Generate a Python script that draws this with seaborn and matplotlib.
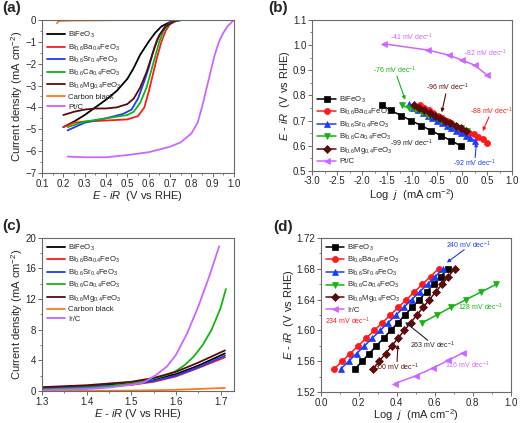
import numpy as np
import pandas as pd
import matplotlib
matplotlib.use("Agg")
import matplotlib.pyplot as plt
import seaborn as sns
from matplotlib.ticker import AutoMinorLocator, FormatStrFormatter

sns.set_style("ticks")
plt.rcParams['font.family'] = ['Liberation Sans', 'DejaVu Sans']
plt.rcParams['mathtext.fontset'] = 'custom'
plt.rcParams['mathtext.rm'] = 'Liberation Sans'
plt.rcParams['mathtext.it'] = 'Liberation Sans:italic'

# ---------------- labels / colors ----------------
names_cat = ["BiFeO$_3$", "Bi$_{0.6}$Ba$_{0.4}$FeO$_3$", "Bi$_{0.6}$Sr$_{0.4}$FeO$_3$",
             "Bi$_{0.6}$Ca$_{0.4}$FeO$_3$", "Bi$_{0.6}$Mg$_{0.4}$FeO$_3$"]
colors = ["#000000", "#ff1a1a", "#1a3cff", "#14b414", "#5c0a0a", "#ff7a1a", "#cc66ff"]

# ---------------- panel (a): ORR LSV ----------------
a_bfo_x = [0.20, 0.25, 0.30, 0.35, 0.40, 0.45, 0.50, 0.53, 0.56, 0.60, 0.63, 0.66, 0.70, 0.75, 1.00]
a_bfo_y = [-4.90, -4.65, -4.35, -4.00, -3.65, -3.25, -2.70, -2.20, -1.60, -1.00, -0.60, -0.30, -0.10, 0.00, 0.00]
a_ba_x = [0.20, 0.25, 0.30, 0.40, 0.50, 0.55, 0.58, 0.60, 0.62, 0.64, 0.66, 0.68, 0.70, 0.73, 0.76, 1.00]
a_ba_y = [-4.90, -4.70, -4.65, -4.60, -4.55, -4.40, -4.00, -3.30, -2.50, -1.70, -1.00, -0.50, -0.20, -0.05, 0.00, 0.02]
a_sr_x = [0.22, 0.30, 0.40, 0.48, 0.52, 0.55, 0.58, 0.60, 0.62, 0.64, 0.67, 0.70, 0.74, 1.00]
a_sr_y = [-5.05, -4.70, -4.50, -4.30, -4.10, -3.60, -2.80, -2.20, -1.50, -0.90, -0.40, -0.10, 0.00, 0.00]
a_ca_x = [0.22, 0.30, 0.40, 0.50, 0.53, 0.56, 0.59, 0.61, 0.63, 0.65, 0.67, 0.70, 0.74, 1.00]
a_ca_y = [-4.90, -4.65, -4.50, -4.35, -4.20, -3.80, -3.10, -2.40, -1.70, -1.00, -0.50, -0.15, 0.00, 0.04]
a_mg_x = [0.20, 0.25, 0.30, 0.35, 0.40, 0.45, 0.50, 0.53, 0.56, 0.59, 0.61, 0.63, 0.65, 0.68, 0.72, 0.76, 1.00]
a_mg_y = [-4.35, -4.20, -4.10, -4.05, -4.05, -4.00, -3.85, -3.60, -3.10, -2.40, -1.80, -1.20, -0.70, -0.30, -0.05, 0.00, 0.02]
a_cb_x = [0.17, 0.18, 0.25, 0.50, 1.00]
a_cb_y = [-0.15, -0.05, -0.03, -0.01, 0.00]
a_pt_x = [0.22, 0.30, 0.40, 0.50, 0.60, 0.70, 0.75, 0.80, 0.83, 0.85, 0.87, 0.89, 0.91, 0.93, 0.95, 0.97, 1.00]
a_pt_y = [-6.25, -6.28, -6.28, -6.18, -6.05, -5.80, -5.60, -5.20, -4.70, -4.00, -3.20, -2.40, -1.60, -1.00, -0.60, -0.30, 0.00]

# ---------------- panel (b): ORR Tafel ----------------
b_bfo_x = [-1.60, -1.42, -1.22, -1.02, -0.82, -0.62, -0.42, -0.22, -0.03]
b_bfo_y = [0.76, 0.74, 0.72, 0.70, 0.68, 0.66, 0.64, 0.62, 0.60]
b_ba_x = [-0.85, -0.76, -0.67, -0.58, -0.49, -0.40, -0.31, -0.22, -0.13, -0.04, 0.05, 0.14, 0.23, 0.32, 0.41, 0.50]
b_ba_y = [0.76, 0.75, 0.74, 0.73, 0.72, 0.71, 0.70, 0.69, 0.68, 0.67, 0.66, 0.65, 0.645, 0.635, 0.625, 0.61]
b_sr_x = [-1.07, -0.975, -0.88, -0.785, -0.69, -0.595, -0.50, -0.405, -0.31, -0.215, -0.12, -0.025, 0.07, 0.165, 0.26]
b_sr_y = [0.765, 0.75, 0.74, 0.73, 0.72, 0.71, 0.70, 0.69, 0.68, 0.67, 0.66, 0.65, 0.64, 0.63, 0.62]
b_ca_x = [-1.20, -1.07, -0.94, -0.81, -0.68, -0.55, -0.42, -0.29, -0.16, -0.03, 0.10]
b_ca_y = [0.76, 0.75, 0.74, 0.73, 0.72, 0.71, 0.70, 0.69, 0.68, 0.67, 0.66]
b_mg_x = [-0.97, -0.86, -0.76, -0.65, -0.55, -0.45, -0.34, -0.24, -0.13, -0.03, 0.08]
b_mg_y = [0.76, 0.75, 0.74, 0.73, 0.72, 0.71, 0.70, 0.69, 0.68, 0.67, 0.66]
b_pt_x = [-1.57, -0.68, -0.27, 0.00, 0.25, 0.50]
b_pt_y = [1.005, 0.98, 0.96, 0.94, 0.92, 0.88]

# ---------------- panel (c): OER LSV ----------------
c_bfo_x = [1.30, 1.40, 1.50, 1.55, 1.60, 1.65, 1.71]
c_bfo_y = [0.40, 0.60, 1.00, 1.50, 2.20, 3.30, 4.90]
c_ba_x = [1.30, 1.40, 1.50, 1.55, 1.60, 1.65, 1.71]
c_ba_y = [0.30, 0.50, 0.80, 1.20, 1.90, 3.00, 4.40]
c_sr_x = [1.30, 1.40, 1.50, 1.55, 1.60, 1.65, 1.71]
c_sr_y = [0.35, 0.55, 0.85, 1.30, 2.00, 3.10, 4.60]
c_ca_x = [1.30, 1.40, 1.45, 1.50, 1.55, 1.58, 1.60, 1.62, 1.64, 1.66, 1.68, 1.70, 1.712]
c_ca_y = [0.20, 0.40, 0.60, 1.00, 1.60, 2.10, 2.60, 3.40, 4.50, 6.00, 8.00, 10.8, 13.3]
c_mg_x = [1.30, 1.40, 1.50, 1.55, 1.60, 1.65, 1.71]
c_mg_y = [0.50, 0.75, 1.20, 1.70, 2.50, 3.70, 5.30]
c_cb_x = [1.30, 1.50, 1.60, 1.71]
c_cb_y = [0.00, 0.05, 0.15, 0.40]
c_ir_x = [1.30, 1.40, 1.45, 1.50, 1.527, 1.556, 1.58, 1.60, 1.625, 1.65, 1.675, 1.697]
c_ir_y = [0.10, 0.25, 0.45, 0.80, 1.10, 2.10, 3.20, 4.70, 7.50, 11.0, 15.0, 18.9]

# ---------------- panel (d): OER Tafel ----------------
d_bfo_x = [0.18, 0.218, 0.255, 0.293, 0.331, 0.368, 0.406, 0.443, 0.481, 0.519, 0.557, 0.594, 0.632, 0.67]
d_bfo_y = [1.55, 1.56, 1.57, 1.58, 1.59, 1.60, 1.61, 1.62, 1.63, 1.64, 1.65, 1.66, 1.67, 1.68]
d_ba_x = [0.07, 0.112, 0.155, 0.197, 0.239, 0.282, 0.324, 0.366, 0.408, 0.451, 0.493, 0.535, 0.578, 0.62]
d_ba_y = [1.55, 1.56, 1.57, 1.58, 1.59, 1.60, 1.61, 1.62, 1.63, 1.64, 1.65, 1.66, 1.67, 1.68]
d_sr_x = [0.105, 0.147, 0.188, 0.23, 0.271, 0.313, 0.354, 0.396, 0.437, 0.479, 0.52, 0.562, 0.603, 0.645]
d_sr_y = [1.55, 1.56, 1.57, 1.58, 1.59, 1.60, 1.61, 1.62, 1.63, 1.64, 1.65, 1.66, 1.67, 1.68]
d_ca_x = [0.535, 0.61, 0.685, 0.765, 0.845, 0.925]
d_ca_y = [1.61, 1.62, 1.63, 1.64, 1.65, 1.66]
d_mg_x = [0.275, 0.308, 0.341, 0.374, 0.407, 0.44, 0.473, 0.506, 0.539, 0.572, 0.605, 0.639, 0.672, 0.705]
d_mg_y = [1.55, 1.56, 1.57, 1.58, 1.59, 1.60, 1.61, 1.62, 1.63, 1.64, 1.65, 1.66, 1.67, 1.68]
d_ir_x = [0.39, 0.50, 0.59, 0.67, 0.75]
d_ir_y = [1.531, 1.541, 1.551, 1.561, 1.571]

fig = plt.figure(figsize=(5.2, 4.23), dpi=100)
ax_a = fig.add_axes([0.0808, 0.591, 0.369, 0.362])
ax_b = fig.add_axes([0.600, 0.596, 0.385, 0.357])
ax_c = fig.add_axes([0.0808, 0.0757, 0.369, 0.362])
ax_d = fig.add_axes([0.617, 0.0733, 0.365, 0.364])

TICK_FS = 7
LAB_FS = 8
LEG_FS = 5.6
ANN_FS = 5.0
SPINE = "#6a6a6a"
LW = 1.3


def style(ax):
    for s in ax.spines.values():
        s.set_color(SPINE)
        s.set_linewidth(0.8)
    ax.tick_params(axis='both', which='major', labelsize=TICK_FS, length=2.8, width=0.7,
                   color=SPINE, direction='out', pad=1.2)
    ax.tick_params(axis='both', which='minor', length=1.6, width=0.6, color=SPINE, direction='out')
    ax.xaxis.set_minor_locator(AutoMinorLocator(2))
    ax.yaxis.set_minor_locator(AutoMinorLocator(2))


def line(ax, x, y, c, label, lw=LW, marker=None, ms=4):
    df = pd.DataFrame({"x": x, "y": y})
    sns.lineplot(data=df, x="x", y="y", ax=ax, color=c, lw=lw, label=label, sort=False,
                 estimator=None, marker=marker, markersize=ms, markeredgecolor=c if marker else None,
                 markeredgewidth=0.5)


# ---------- (a) ----------
a_series = [(a_bfo_x, a_bfo_y), (a_ba_x, a_ba_y), (a_sr_x, a_sr_y), (a_ca_x, a_ca_y),
            (a_mg_x, a_mg_y), (a_cb_x, a_cb_y), (a_pt_x, a_pt_y)]
a_labels = names_cat + ["Carbon black", "Pt/C"]
for (x, y), c, lab in zip(a_series, colors, a_labels):
    line(ax_a, x, y, c, lab)
ax_a.set_xlim(0.1, 1.0)
ax_a.set_ylim(-7, 0)
ax_a.set_xticks(np.arange(0.1, 1.01, 0.1))
ax_a.xaxis.set_major_formatter(FormatStrFormatter('%.1f'))
ax_a.set_yticks(range(-7, 1))
style(ax_a)
ax_a.set_xlabel(r"$E$ - $iR$  (V vs RHE)", fontsize=LAB_FS, labelpad=0.5)
ax_a.set_ylabel(r"Current density (mA cm$^{-2}$)", fontsize=LAB_FS, labelpad=0.5)
ax_a.legend(loc='upper left', bbox_to_anchor=(0.0, 0.965), fontsize=LEG_FS, frameon=False,
            handlelength=2.4, handletextpad=0.4, labelspacing=0.3, borderaxespad=0.2)

# ---------- (b) ----------
b_series = [(b_bfo_x, b_bfo_y, 's'), (b_ba_x, b_ba_y, 'o'), (b_sr_x, b_sr_y, '^'),
            (b_ca_x, b_ca_y, 'v'), (b_mg_x, b_mg_y, 'D'), (b_pt_x, b_pt_y, '<')]
b_labels = names_cat + ["Pt/C"]
b_cols = colors[:5] + [colors[6]]
for (x, y, m), c, lab in zip(b_series, b_cols, b_labels):
    line(ax_b, x, y, c, lab, lw=1.1, marker=m, ms=4.4 if m != 'D' else 3.6)
ax_b.set_xlim(-3.0, 1.0)
ax_b.set_ylim(0.5, 1.1)
ax_b.set_xticks(np.arange(-3.0, 1.01, 0.5))
ax_b.xaxis.set_major_formatter(FormatStrFormatter('%.1f'))
ax_b.set_yticks(np.arange(0.5, 1.11, 0.1))
ax_b.yaxis.set_major_formatter(FormatStrFormatter('%.1f'))
style(ax_b)
ax_b.set_xlabel(r"Log  $j$  (mA cm$^{-2}$)", fontsize=LAB_FS, labelpad=0.5)
ax_b.set_ylabel(r"$E$ - $iR$  (V vs RHE)", fontsize=LAB_FS, labelpad=0.5)
ax_b.legend(loc='lower left', fontsize=LEG_FS, frameon=False, handlelength=2.4,
            handletextpad=0.4, labelspacing=0.3, borderaxespad=0.3)

ann_b = [("-41 mV dec$^{-1}$", (-1.0, 1.03), None, colors[6]),
         ("-82 mV dec$^{-1}$", (0.47, 0.967), None, colors[6]),
         ("-76 mV dec$^{-1}$", (-1.35, 0.90), (-1.12, 0.772), colors[3]),
         ("-96 mV dec$^{-1}$", (-0.30, 0.83), (-0.42, 0.722), colors[4]),
         ("-88 mV dec$^{-1}$", (0.58, 0.737), (0.39, 0.648), colors[1]),
         ("-99 mV dec$^{-1}$", (-1.0, 0.609), None, "#222222"),
         ("-92 mV dec$^{-1}$", (0.25, 0.529), (0.29, 0.623), colors[2])]
for txt, pos, tip, c in ann_b:
    ax_b.text(pos[0], pos[1], txt, color=c, fontsize=ANN_FS, ha='center', va='center')
    if tip is not None:
        sx = pos[0] + (tip[0] - pos[0]) * 0.12
        sy = pos[1] + (0.013 if tip[1] > pos[1] else -0.013)
        ax_b.annotate("", xy=tip, xytext=(sx, sy),
                      arrowprops=dict(arrowstyle='-|>', color=c, lw=0.8, mutation_scale=5))

# ---------- (c) ----------
c_series = [(c_bfo_x, c_bfo_y), (c_ba_x, c_ba_y), (c_sr_x, c_sr_y), (c_ca_x, c_ca_y),
            (c_mg_x, c_mg_y), (c_cb_x, c_cb_y), (c_ir_x, c_ir_y)]
c_labels = names_cat + ["Carbon black", "Ir/C"]
for (x, y), c, lab in zip(c_series, colors, c_labels):
    line(ax_c, x, y, c, lab)
ax_c.set_xlim(1.3, 1.73)
ax_c.set_ylim(0, 20)
ax_c.set_xticks([1.3, 1.4, 1.5, 1.6, 1.7])
ax_c.xaxis.set_major_formatter(FormatStrFormatter('%.1f'))
ax_c.set_yticks(range(0, 21, 4))
style(ax_c)
ax_c.set_xlabel(r"$E$ - $iR$ (V vs RHE)", fontsize=LAB_FS, labelpad=0)
ax_c.set_ylabel(r"Current density (mA cm$^{-2}$)", fontsize=LAB_FS, labelpad=0.5)
ax_c.legend(loc='upper left', fontsize=LEG_FS, frameon=False, handlelength=2.4,
            handletextpad=0.4, labelspacing=0.3, borderaxespad=0.2)

# ---------- (d) ----------
d_series = [(d_bfo_x, d_bfo_y, 's'), (d_ba_x, d_ba_y, 'o'), (d_sr_x, d_sr_y, '^'),
            (d_ca_x, d_ca_y, 'v'), (d_mg_x, d_mg_y, 'D'), (d_ir_x, d_ir_y, '<')]
d_labels = names_cat + ["Ir/C"]
for (x, y, m), c, lab in zip(d_series, b_cols, d_labels):
    line(ax_d, x, y, c, lab, lw=1.1, marker=m, ms=4.4 if m != 'D' else 3.6)
ax_d.set_xlim(0.0, 1.0)
ax_d.set_ylim(1.52, 1.72)
ax_d.set_xticks(np.arange(0.0, 1.01, 0.2))
ax_d.xaxis.set_major_formatter(FormatStrFormatter('%.1f'))
ax_d.set_yticks(np.arange(1.52, 1.721, 0.04))
ax_d.yaxis.set_major_formatter(FormatStrFormatter('%.2f'))
style(ax_d)
ax_d.set_xlabel(r"Log  $j$  (mA cm$^{-2}$)", fontsize=LAB_FS, labelpad=0)
ax_d.set_ylabel(r"$E$ - $iR$  (V vs RHE)", fontsize=LAB_FS, labelpad=0.5)
ax_d.legend(loc='upper left', fontsize=LEG_FS, frameon=False, handlelength=2.4,
            handletextpad=0.4, labelspacing=0.3, borderaxespad=0.2)

ann_d = [("240 mV dec$^{-1}$", (0.78, 1.711), (0.652, 1.686), colors[2]),
         ("128 mV dec$^{-1}$", (0.84, 1.630), None, colors[3]),
         ("234 mV dec$^{-1}$", (0.14, 1.612), None, colors[1]),
         ("263 mV dec$^{-1}$", (0.59, 1.581), (0.433, 1.613), "#222222"),
         ("300 mV dec$^{-1}$", (0.40, 1.552), (0.407, 1.585), colors[4]),
         ("116 mV dec$^{-1}$", (0.77, 1.555), None, colors[6])]
for txt, pos, tip, c in ann_d:
    ax_d.text(pos[0], pos[1], txt, color=c, fontsize=ANN_FS, ha='center', va='center')
    if tip is not None:
        sx = pos[0] + (tip[0] - pos[0]) * 0.1
        sy = pos[1] + (0.004 if tip[1] > pos[1] else -0.004)
        ax_d.annotate("", xy=tip, xytext=(sx, sy),
                      arrowprops=dict(arrowstyle='-|>', color=c, lw=0.8, mutation_scale=5))

for ax, lab, (px, py) in [(ax_a, "(a)", (0.005, 0.998)), (ax_b, "(b)", (0.515, 0.998)),
                          (ax_c, "(c)", (0.005, 0.483)), (ax_d, "(d)", (0.525, 0.481))]:
    fig.text(px, py, lab, fontsize=11, fontweight='bold', ha='left', va='top')

fig.savefig("out.png", dpi=100)
